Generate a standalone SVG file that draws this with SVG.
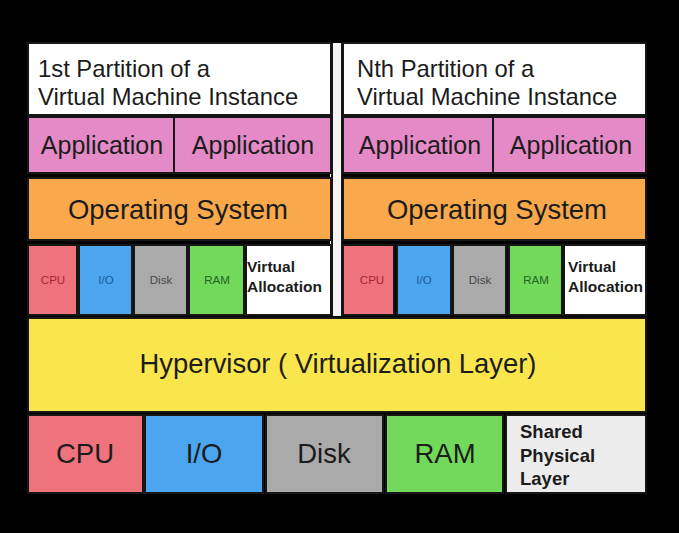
<svg xmlns="http://www.w3.org/2000/svg" width="679" height="533" viewBox="0 0 679 533">
<style>
.c{stroke:#161616;stroke-width:2}
.t{font-family:"Liberation Sans",Arial,sans-serif;fill:#1c1c1c}
.m{text-anchor:middle}
.b{font-weight:bold}
.hd{font-size:23.8px}
.ap{font-size:25px}
.os{font-size:27.5px}
.sm{font-size:11.5px}
.va{font-size:15.5px}
.hv{font-size:27.4px}
.big{font-size:27.5px}
.sh{font-size:18.5px}
</style>
<rect x="0" y="0" width="679" height="533" fill="#000"/>
<rect x="330" y="43" width="13" height="273" fill="#f4f4f4"/>
<line x1="332" y1="43" x2="332" y2="316" stroke="#161616" stroke-width="2"/>
<line x1="342" y1="43" x2="342" y2="316" stroke="#161616" stroke-width="2"/>
<g id="partition1">
  <g id="p1-header"><rect class="c" x="28" y="43" width="303" height="72" fill="#fff"/>
    <text class="t hd" x="38" y="77">1st Partition of a</text>
    <text class="t hd" x="38" y="105">Virtual Machine Instance</text></g>
  <g id="p1-app1"><rect class="c" x="28" y="117" width="146" height="56" fill="#e48ac6"/>
    <text class="t ap m" x="102" y="154">Application</text></g>
  <g id="p1-app2"><rect class="c" x="174" y="117" width="157" height="56" fill="#e48ac6"/>
    <text class="t ap m" x="253" y="154">Application</text></g>
  <g id="p1-os"><rect class="c" x="28" y="178" width="303" height="62" fill="#f9a94b"/>
    <text class="t os m" x="178" y="219">Operating System</text></g>
  <g id="p1-cpu"><rect class="c" x="28" y="245" width="49" height="70" fill="#ef737d"/>
    <text class="t sm m" x="53" y="284" style="fill:#a02a36">CPU</text></g>
  <g id="p1-io"><rect class="c" x="79" y="245" width="53" height="70" fill="#4ba5ef"/>
    <text class="t sm m" x="106" y="284" style="fill:#1c56a0">I/O</text></g>
  <g id="p1-disk"><rect class="c" x="134" y="245" width="53" height="70" fill="#aaaaaa"/>
    <text class="t sm m" x="161" y="284" style="fill:#474747">Disk</text></g>
  <g id="p1-ram"><rect class="c" x="189" y="245" width="55" height="70" fill="#72d95a"/>
    <text class="t sm m" x="217" y="284" style="fill:#236622">RAM</text></g>
  <g id="p1-va"><rect class="c" x="246" y="245" width="85" height="70" fill="#fff"/>
    <text class="t va b" x="247" y="272">Virtual</text>
    <text class="t va b" x="247" y="292">Allocation</text></g>
</g>
<g id="partitionN">
  <g id="pn-header"><rect class="c" x="343" y="43" width="303" height="72" fill="#fff"/>
    <text class="t hd" x="357" y="77">Nth Partition of a</text>
    <text class="t hd" x="357" y="105">Virtual Machine Instance</text></g>
  <g id="pn-app1"><rect class="c" x="343" y="117" width="150" height="56" fill="#e48ac6"/>
    <text class="t ap m" x="420" y="154">Application</text></g>
  <g id="pn-app2"><rect class="c" x="493" y="117" width="153" height="56" fill="#e48ac6"/>
    <text class="t ap m" x="571" y="154">Application</text></g>
  <g id="pn-os"><rect class="c" x="343" y="178" width="303" height="62" fill="#f9a94b"/>
    <text class="t os m" x="497" y="219">Operating System</text></g>
  <g id="pn-cpu"><rect class="c" x="343" y="245" width="51" height="70" fill="#ef737d"/>
    <text class="t sm m" x="372" y="284" style="fill:#a02a36">CPU</text></g>
  <g id="pn-io"><rect class="c" x="397" y="245" width="54" height="70" fill="#4ba5ef"/>
    <text class="t sm m" x="424" y="284" style="fill:#1c56a0">I/O</text></g>
  <g id="pn-disk"><rect class="c" x="453" y="245" width="53" height="70" fill="#aaaaaa"/>
    <text class="t sm m" x="480" y="284" style="fill:#474747">Disk</text></g>
  <g id="pn-ram"><rect class="c" x="509" y="245" width="53" height="70" fill="#72d95a"/>
    <text class="t sm m" x="536" y="284" style="fill:#236622">RAM</text></g>
  <g id="pn-va"><rect class="c" x="564" y="245" width="82" height="70" fill="#fff"/>
    <text class="t va b" x="568" y="272">Virtual</text>
    <text class="t va b" x="568" y="292">Allocation</text></g>
</g>
<g id="hypervisor"><rect class="c" x="28" y="318" width="618" height="94" fill="#f9e54c"/>
  <text class="t hv m" x="338" y="373">Hypervisor ( Virtualization Layer)</text></g>
<g id="physical">
  <g id="ph-cpu"><rect class="c" x="28" y="415" width="115" height="78" fill="#ef737d"/>
    <text class="t big m" x="85" y="463">CPU</text></g>
  <g id="ph-io"><rect class="c" x="145" y="415" width="118" height="78" fill="#4ba5ef"/>
    <text class="t big m" x="204" y="463">I/O</text></g>
  <g id="ph-disk"><rect class="c" x="266" y="415" width="117" height="78" fill="#aaaaaa"/>
    <text class="t big m" x="324" y="463">Disk</text></g>
  <g id="ph-ram"><rect class="c" x="386" y="415" width="117" height="78" fill="#72d95a"/>
    <text class="t big m" x="445" y="463">RAM</text></g>
  <g id="ph-shared"><rect class="c" x="506" y="415" width="140" height="78" fill="#ececec"/>
    <text class="t sh b" x="520" y="438">Shared</text>
    <text class="t sh b" x="520" y="462">Physical</text>
    <text class="t sh b" x="520" y="485">Layer</text></g>
</g>
</svg>
